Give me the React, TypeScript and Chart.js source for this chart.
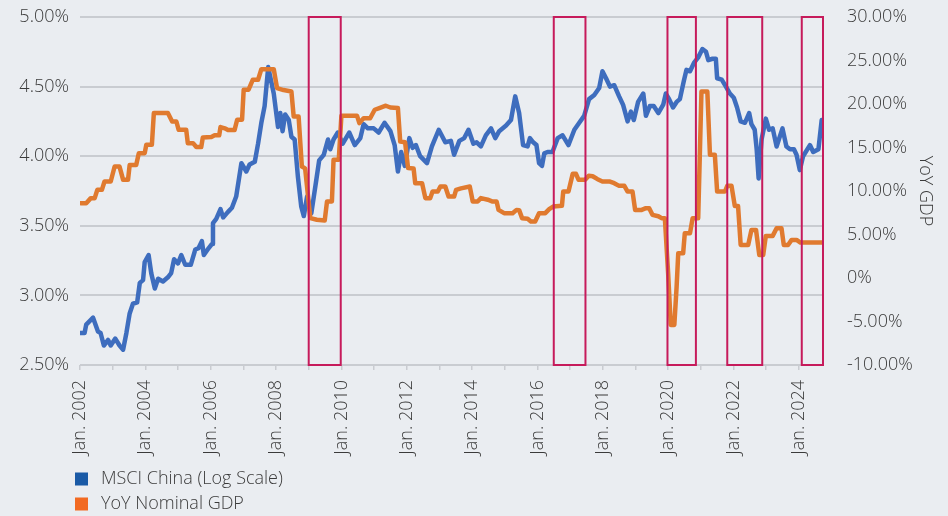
import React, { useEffect, useRef } from "react";
import { Chart, registerables } from "chart.js";

Chart.register(...registerables);

// MSCI China (log scale) – left axis
const msciYears = [
  2002.02, 2002.14, 2002.19, 2002.40, 2002.55, 2002.63, 2002.73, 2002.86, 2002.94, 2003.08,
  2003.21, 2003.32, 2003.42, 2003.52, 2003.62, 2003.75, 2003.83, 2003.93, 2003.98, 2004.10,
  2004.18, 2004.29, 2004.39, 2004.54, 2004.69, 2004.79, 2004.88, 2005.00, 2005.10, 2005.22,
  2005.39, 2005.53, 2005.63, 2005.73, 2005.79, 2005.94, 2006.04, 2006.07, 2006.17, 2006.30,
  2006.38, 2006.53, 2006.65, 2006.78, 2006.94, 2007.09, 2007.19, 2007.35, 2007.45, 2007.55,
  2007.65, 2007.76, 2007.93, 2008.06, 2008.13, 2008.20, 2008.28, 2008.39, 2008.47, 2008.57,
  2008.67, 2008.77, 2008.85, 2008.95, 2009.08, 2009.22, 2009.32, 2009.46, 2009.59, 2009.66,
  2009.76, 2009.89, 2010.04, 2010.24, 2010.41, 2010.58, 2010.68, 2010.81, 2010.99, 2011.14,
  2011.32, 2011.50, 2011.63, 2011.73, 2011.83, 2011.94, 2012.08, 2012.18, 2012.28, 2012.41,
  2012.62, 2012.77, 2012.98, 2013.18, 2013.35, 2013.45, 2013.61, 2013.76, 2013.89, 2014.04,
  2014.14, 2014.27, 2014.42, 2014.58, 2014.71, 2014.83, 2015.04, 2015.19, 2015.32, 2015.44,
  2015.56, 2015.70, 2015.77, 2015.87, 2015.97, 2016.05, 2016.14, 2016.21, 2016.31, 2016.46,
  2016.62, 2016.77, 2016.95, 2017.13, 2017.28, 2017.43, 2017.58, 2017.74, 2017.89, 2017.99,
  2018.10, 2018.22, 2018.35, 2018.50, 2018.62, 2018.76, 2018.86, 2018.95, 2019.08, 2019.24,
  2019.32, 2019.44, 2019.56, 2019.70, 2019.85, 2019.93, 2020.03, 2020.15, 2020.26, 2020.36,
  2020.48, 2020.56, 2020.67, 2020.79, 2020.92, 2021.05, 2021.16, 2021.23, 2021.36, 2021.46,
  2021.50, 2021.64, 2021.77, 2021.89, 2022.01, 2022.11, 2022.22, 2022.35, 2022.48, 2022.55,
  2022.65, 2022.71, 2022.77, 2022.86, 2022.99, 2023.09, 2023.20, 2023.32, 2023.50, 2023.62,
  2023.73, 2023.85, 2023.93, 2024.03, 2024.13, 2024.34, 2024.44, 2024.60, 2024.70,
];
const msciValues = [
  2.73, 2.73, 2.79, 2.84, 2.74, 2.73, 2.64, 2.68, 2.64, 2.69,
  2.64, 2.61, 2.73, 2.87, 2.94, 2.95, 3.09, 3.11, 3.24, 3.29,
  3.16, 3.05, 3.12, 3.10, 3.13, 3.16, 3.26, 3.23, 3.29, 3.22,
  3.22, 3.33, 3.34, 3.39, 3.29, 3.34, 3.37, 3.52, 3.55, 3.62,
  3.56, 3.60, 3.63, 3.71, 3.95, 3.89, 3.94, 3.96, 4.09, 4.24,
  4.36, 4.64, 4.45, 4.21, 4.31, 4.18, 4.30, 4.26, 4.14, 4.12,
  3.85, 3.64, 3.57, 3.71, 3.59, 3.81, 3.97, 4.01, 4.12, 4.05,
  4.12, 4.17, 4.09, 4.17, 4.08, 4.13, 4.23, 4.20, 4.20, 4.17,
  4.24, 4.18, 4.08, 3.89, 4.03, 3.93, 4.13, 4.06, 4.08, 4.00,
  3.95, 4.07, 4.19, 4.10, 4.11, 4.01, 4.11, 4.13, 4.19, 4.09,
  4.10, 4.07, 4.15, 4.20, 4.13, 4.18, 4.22, 4.26, 4.43, 4.31,
  4.08, 4.07, 4.13, 4.10, 4.08, 3.95, 3.93, 4.02, 4.03, 4.03,
  4.13, 4.15, 4.08, 4.19, 4.24, 4.29, 4.41, 4.44, 4.49, 4.61,
  4.56, 4.50, 4.51, 4.43, 4.37, 4.25, 4.32, 4.26, 4.39, 4.45,
  4.29, 4.36, 4.36, 4.31, 4.37, 4.45, 4.41, 4.35, 4.39, 4.41,
  4.54, 4.62, 4.61, 4.67, 4.71, 4.77, 4.75, 4.69, 4.70, 4.70,
  4.56, 4.55, 4.50, 4.45, 4.42, 4.35, 4.25, 4.24, 4.31, 4.23,
  4.19, 4.05, 3.84, 4.12, 4.27, 4.19, 4.20, 4.07, 4.20, 4.07,
  4.05, 4.05, 4.01, 3.90, 4.00, 4.08, 4.03, 4.05, 4.26,
];

// YoY nominal GDP – right axis
const gdpYears = [
  2002.02, 2002.19, 2002.33, 2002.45, 2002.53, 2002.67, 2002.75, 2002.94, 2003.06, 2003.21,
  2003.32, 2003.47, 2003.52, 2003.72, 2003.80, 2003.98, 2004.03, 2004.20, 2004.26, 2004.69,
  2004.82, 2004.95, 2005.02, 2005.25, 2005.30, 2005.46, 2005.56, 2005.71, 2005.76, 2006.02,
  2006.12, 2006.26, 2006.30, 2006.43, 2006.53, 2006.73, 2006.81, 2006.96, 2007.01, 2007.16,
  2007.29, 2007.45, 2007.55, 2007.93, 2008.03, 2008.23, 2008.47, 2008.54, 2008.69, 2008.79,
  2008.89, 2008.98, 2009.05, 2009.25, 2009.49, 2009.56, 2009.71, 2009.76, 2009.92, 2010.00,
  2010.48, 2010.55, 2010.68, 2010.88, 2011.02, 2011.16, 2011.36, 2011.50, 2011.73, 2011.80,
  2011.95, 2012.04, 2012.21, 2012.26, 2012.47, 2012.57, 2012.72, 2012.79, 2012.95, 2013.03,
  2013.18, 2013.28, 2013.45, 2013.51, 2013.66, 2013.93, 2014.02, 2014.17, 2014.27, 2014.48,
  2014.63, 2014.75, 2014.81, 2014.98, 2015.24, 2015.36, 2015.44, 2015.53, 2015.70, 2015.80,
  2015.93, 2016.05, 2016.24, 2016.36, 2016.48, 2016.75, 2016.79, 2016.95, 2017.08, 2017.18,
  2017.26, 2017.46, 2017.57, 2017.69, 2017.84, 2017.99, 2018.20, 2018.35, 2018.50, 2018.66,
  2018.76, 2018.91, 2018.99, 2019.19, 2019.32, 2019.42, 2019.52, 2019.70, 2019.80, 2019.90,
  2020.00, 2020.08, 2020.19, 2020.26, 2020.31, 2020.46, 2020.51, 2020.67, 2020.75, 2020.92,
  2021.02, 2021.20, 2021.28, 2021.43, 2021.50, 2021.74, 2021.81, 2021.94, 2022.04, 2022.14,
  2022.22, 2022.45, 2022.55, 2022.69, 2022.79, 2022.91, 2022.99, 2023.20, 2023.32, 2023.47,
  2023.54, 2023.67, 2023.78, 2023.93, 2024.05, 2024.73,
];
const gdpValues = [
  8.6, 8.6, 9.18, 9.18, 10.13, 10.13, 11.09, 11.09, 12.81, 12.81,
  11.28, 11.28, 13.0, 13.0, 14.35, 14.35, 15.31, 15.31, 18.96, 18.96,
  17.99, 17.99, 17.03, 17.03, 15.5, 15.5, 15.05, 15.05, 16.15, 16.2,
  16.4, 16.4, 17.35, 17.2, 17.0, 17.0, 18.19, 18.19, 21.64, 21.64,
  22.79, 22.79, 24.0, 24.0, 21.83, 21.6, 21.44, 18.57, 18.57, 12.81,
  12.6, 9.36, 6.88, 6.7, 6.6, 8.79, 8.79, 13.58, 13.58, 18.64,
  18.64, 17.8, 18.36, 18.36, 19.34, 19.53, 19.8, 19.6, 19.53, 15.69,
  15.6, 12.63, 12.6, 10.9, 10.9, 9.18, 9.18, 9.94, 9.94, 10.51,
  10.51, 9.36, 9.36, 10.13, 10.3, 10.51, 8.79, 8.79, 9.18, 9.0,
  8.79, 8.79, 7.83, 7.45, 7.45, 7.83, 7.8, 6.88, 6.8, 6.49,
  6.49, 7.45, 7.45, 7.91, 8.21, 8.3, 9.94, 9.94, 11.97, 11.97,
  11.28, 11.28, 11.74, 11.7, 11.36, 11.1, 11.1, 10.9, 10.59, 10.59,
  9.94, 9.94, 7.83, 7.83, 8.03, 8.03, 7.26, 7.1, 6.88, 6.88,
  0.55, -5.4, -5.4, -0.99, 2.85, 2.85, 5.15, 5.15, 6.88, 6.88,
  21.44, 21.44, 14.16, 14.16, 9.94, 9.94, 10.59, 10.59, 8.29, 8.29,
  3.8, 3.8, 5.53, 5.53, 2.65, 2.65, 4.84, 4.84, 5.72, 5.72,
  3.8, 3.8, 4.38, 4.38, 4.07, 4.07,
];

// Highlighted periods (red boxes)
const highlightStarts = [2009.0, 2016.5, 2019.98, 2021.81, 2024.09];
const highlightEnds = [2009.98, 2017.47, 2020.85, 2022.88, 2024.74];

const xMin = 2002;
const xMax = 2024.74;

const legendLabels = ["MSCI China (Log Scale)", "YoY Nominal GDP"];
const legendColors = ["#1a5aa6", "#f26a22"];

const BG = "#eaedf1";
const GRID = "#c9ccd1";
const TEXT = "#3b3b3b";
const FONT = "'Open Sans', 'Noto Sans', sans-serif";

function clearPadding(s: any) {
  s.paddingTop = 0;
  s.paddingBottom = 0;
  s.paddingLeft = 0;
  s.paddingRight = 0;
}

export default function App() {
  const canvasRef = useRef<HTMLCanvasElement | null>(null);

  useEffect(() => {
    const canvas = canvasRef.current;
    if (!canvas) return;

    const boxesPlugin = {
      id: "highlightBoxes",
      afterDatasetsDraw(chart: any) {
        const { ctx, chartArea, scales } = chart;
        const xs = scales.x;
        ctx.save();
        ctx.strokeStyle = "#c61b5b";
        ctx.lineWidth = 2;
        for (let i = 0; i < highlightStarts.length; i++) {
          const x1 = xs.getPixelForValue(highlightStarts[i]);
          const x2 = xs.getPixelForValue(highlightEnds[i]);
          ctx.strokeRect(x1, chartArea.top, x2 - x1, chartArea.bottom - chartArea.top);
        }
        ctx.restore();
      },
    };

    const legendPlugin = {
      id: "customLegend",
      afterDraw(chart: any) {
        const { ctx } = chart;
        ctx.save();
        ctx.font = `300 18px ${FONT}`;
        ctx.textBaseline = "middle";
        ctx.textAlign = "left";
        const rows = [479, 504];
        for (let i = 0; i < legendLabels.length; i++) {
          ctx.fillStyle = legendColors[i];
          ctx.fillRect(75, rows[i] - 6.5, 13, 13);
          ctx.fillStyle = TEXT;
          ctx.fillText(legendLabels[i], 101, rows[i]);
        }
        ctx.restore();
      },
    };

    const tickFont = { family: FONT, size: 18, weight: "300" as any };

    const chart = new Chart(canvas, {
      type: "line",
      data: {
        datasets: [
          {
            label: legendLabels[1],
            data: gdpYears.map((x, i) => ({ x, y: gdpValues[i] })),
            yAxisID: "y1",
            borderColor: "#e07a2f",
            borderWidth: 4.5,
            pointRadius: 0,
            tension: 0,
            borderJoinStyle: "round",
            borderCapStyle: "round",
            order: 0,
          },
          {
            label: legendLabels[0],
            data: msciYears.map((x, i) => ({ x, y: msciValues[i] })),
            yAxisID: "y",
            borderColor: "#3e6dbe",
            borderWidth: 4.5,
            pointRadius: 0,
            tension: 0,
            borderJoinStyle: "round",
            borderCapStyle: "round",
            order: 1,
          },
        ],
      },
      options: {
        responsive: false,
        animation: false,
        layout: { padding: { top: 17, left: 0, right: 0, bottom: 0 } },
        plugins: {
          legend: { display: false },
          tooltip: { enabled: false },
        },
        scales: {
          x: {
            type: "linear",
            min: xMin,
            max: xMax,
            grid: {
              drawOnChartArea: false,
              drawTicks: true,
              tickLength: 5,
              color: GRID,
              lineWidth: 1.5,
            },
            border: { display: false },
            ticks: {
              stepSize: 1,
              includeBounds: false,
              autoSkip: false,
              minRotation: 90,
              maxRotation: 90,
              padding: 10,
              color: TEXT,
              font: tickFont,
              callback: (v: any) => {
                const n = Number(v);
                return Number.isInteger(n) && n % 2 === 0 ? "Jan. " + n : "";
              },
            },
            afterFit: (s: any) => {
              s.height = 151;
              clearPadding(s);
            },
          },
          y: {
            position: "left",
            min: 2.5,
            max: 5.0,
            grid: { color: GRID, lineWidth: 2, drawTicks: false },
            border: { display: false },
            ticks: {
              stepSize: 0.5,
              padding: 11,
              color: TEXT,
              font: tickFont,
              callback: (v: any) => Number(v).toFixed(2) + "%",
            },
            afterFit: (s: any) => {
              s.width = 80;
              clearPadding(s);
            },
          },
          y1: {
            position: "right",
            min: -10,
            max: 30,
            grid: { display: false, drawOnChartArea: false },
            border: { display: false },
            ticks: {
              stepSize: 5,
              padding: 16,
              color: TEXT,
              font: tickFont,
              callback: (v: any) => (Number(v) === 0 ? "0%" : Number(v).toFixed(2) + "%"),
            },
            title: {
              display: true,
              text: "YoY GDP",
              color: TEXT,
              font: { family: FONT, size: 18, weight: "300" as any },
              padding: { top: 12, bottom: 0 },
            },
            afterFit: (s: any) => {
              s.width = 125;
              clearPadding(s);
            },
          },
        },
      },
      plugins: [boxesPlugin, legendPlugin],
    });

    return () => chart.destroy();
  }, []);

  return (
    <div
      style={{
        position: "fixed",
        left: 0,
        top: 0,
        width: 948,
        height: 516,
        background: BG,
      }}
    >
      <canvas ref={canvasRef} width={948} height={516} style={{ display: "block" }} />
    </div>
  );
}
